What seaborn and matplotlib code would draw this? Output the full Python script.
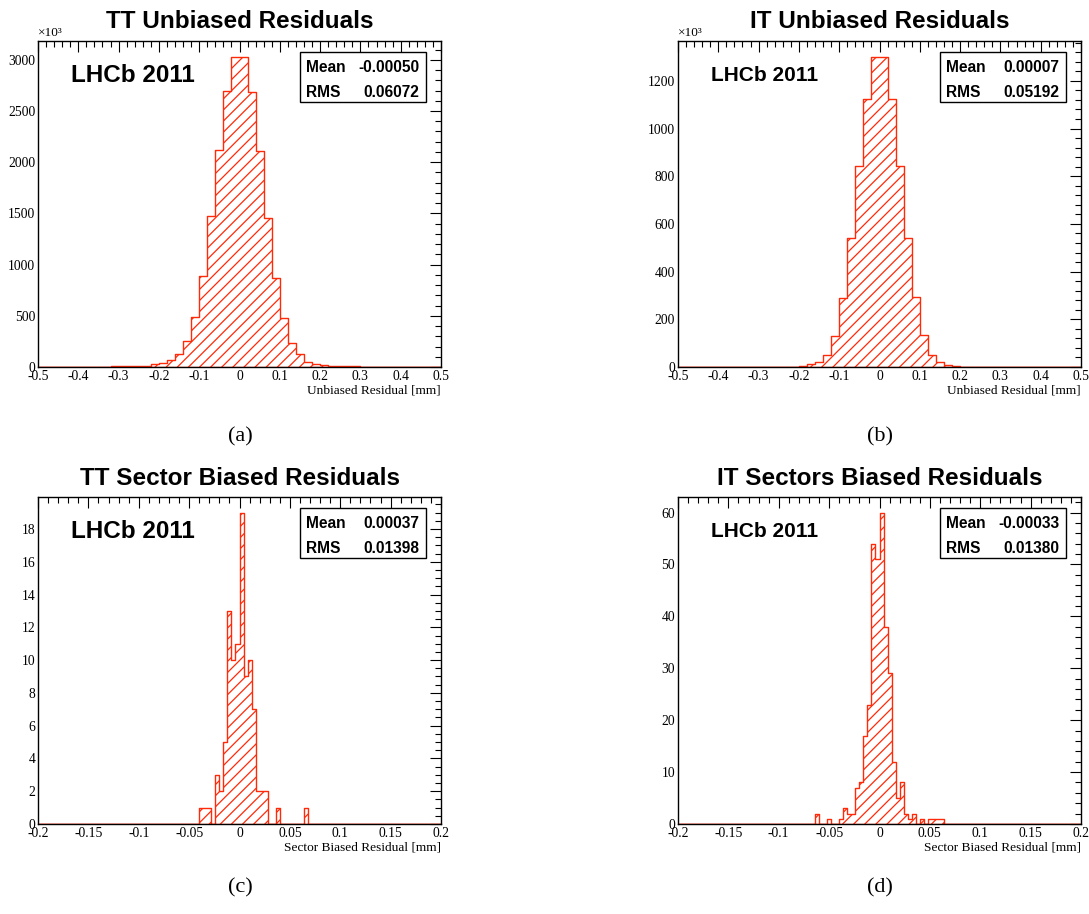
"""
plot.py - LHCb 2011 TT / IT residual histograms (2x2 panel figure).
"""

import numpy as np
import matplotlib
matplotlib.use("Agg")
import matplotlib.pyplot as plt
from matplotlib.patches import Rectangle
from matplotlib.ticker import MultipleLocator, FuncFormatter
import seaborn as sns

RED = "#ff2a0a"

# unbiased residuals: 50 bins of 0.02 mm from -0.5 to 0.5 (counts as shown on the axis)
tt_unbiased_counts = [
    1, 1, 1, 2, 2, 2, 3, 3, 4, 5,
    6, 8, 10, 14, 26, 42, 68, 130, 250, 487,
    890, 1471, 2123, 2692, 3032, 3030, 2682, 2114, 1455, 870,
    474, 234, 123, 52, 32, 19, 13, 9, 7, 5,
    4, 3, 3, 2, 2, 2, 1, 1, 1, 1,
]
it_unbiased_counts = [
    0, 0, 0, 0, 0, 0, 0, 0, 0, 0,
    0, 0, 0, 1, 2, 5, 12, 22, 49, 132,
    290, 541, 842, 1123, 1302, 1300, 1123, 845, 542, 293,
    135, 50, 22, 10, 5, 2, 1, 1, 0, 0,
    0, 0, 0, 0, 0, 0, 0, 0, 0, 0,
]

# sector biased residuals: 0.004 mm bins from -0.2 to 0.2, only filled bins
# (bin index k counted from zero, bin k covers [k*0.004, (k+1)*0.004))
tt_sector_bins = [-10, -9, -8, -6, -5, -4, -3, -2, -1, 0, 1, 2, 3, 4, 5, 6, 9, 16]
tt_sector_counts = [1, 1, 1, 3, 2, 5, 13, 10, 11, 19, 9, 10, 7, 2, 2, 2, 1, 1]
it_sector_bins = [-16, -13, -10, -9, -8, -7, -6, -5, -4, -3, -2, -1, 0,
                  1, 2, 3, 4, 5, 6, 7, 8, 10, 12, 13, 14, 15]
it_sector_counts = [2, 1, 1, 3, 2, 2, 7, 8, 17, 23, 54, 51, 60,
                    38, 29, 12, 5, 8, 2, 1, 2, 1, 1, 1, 1, 1]

titles = ["TT Unbiased Residuals", "IT Unbiased Residuals",
          "TT Sector Biased Residuals", "IT Sectors Biased Residuals"]
xlabels = ["Unbiased Residual [mm]", "Unbiased Residual [mm]",
           "Sector Biased Residual [mm]", "Sector Biased Residual [mm]"]
means = ["-0.00050", "0.00007", "0.00037", "-0.00033"]
rmss = ["0.06072", "0.05192", "0.01398", "0.01380"]
panel_tags = ["(a)", "(b)", "(c)", "(d)"]

sns.set_style("white")
plt.rcParams["axes.unicode_minus"] = False
plt.rcParams["hatch.color"] = RED
plt.rcParams["hatch.linewidth"] = 0.9
for key in ["text.color", "axes.labelcolor", "xtick.color", "ytick.color",
            "axes.edgecolor"]:
    plt.rcParams[key] = "black"

SANS = ["Liberation Sans", "DejaVu Sans"]
SERIF = ["Liberation Serif", "DejaVu Serif"]


def draw_panel(ax, centers, counts, edges, xstep, ystep, yminor, title, xlabel,
               mean, rms, tag_size, exponent):
    sns.histplot(x=list(centers), weights=list(counts), bins=list(edges),
                 element="step", fill=True, color=RED, facecolor="none",
                 edgecolor=RED, hatch="///", linewidth=1.0, ax=ax)
    ax.set_xlim(edges[0], edges[-1])
    ax.set_ylim(0, max(counts) * 1.05)
    ax.set_ylabel("")
    ax.set_xlabel(xlabel, fontsize=9.6, family=SERIF, loc="right", color="black")
    ax.xaxis.set_label_coords(1.0, -0.055)

    ax.xaxis.set_major_locator(MultipleLocator(xstep))
    ax.xaxis.set_minor_locator(MultipleLocator(xstep / 5))
    ax.yaxis.set_major_locator(MultipleLocator(ystep))
    ax.yaxis.set_minor_locator(MultipleLocator(yminor))
    fmt = FuncFormatter(lambda v, p: "%g" % round(v, 6))
    ax.xaxis.set_major_formatter(fmt)
    ax.yaxis.set_major_formatter(fmt)
    ax.tick_params(which="both", direction="in", top=True, right=True,
                   width=0.8, colors="black", labelsize=9.8, pad=2)
    ax.tick_params(which="major", length=8)
    ax.tick_params(which="minor", length=4)
    for lab in ax.get_xticklabels() + ax.get_yticklabels():
        lab.set_family(SERIF)
    for sp in ax.spines.values():
        sp.set_color("black")
        sp.set_linewidth(1.0)

    ax.set_title(title, fontsize=17.5, fontweight="bold", family=SANS, pad=9,
                 color="black")
    ax.text(0.081, 0.895, "LHCb 2011", transform=ax.transAxes, fontsize=tag_size,
            fontweight="bold", family=SANS, ha="left", va="center", color="black")

    # stats box
    ax.add_patch(Rectangle((0.65, 0.812), 0.313, 0.155, transform=ax.transAxes,
                           facecolor="white", edgecolor="black", linewidth=1.0,
                           zorder=5))
    box_kw = dict(transform=ax.transAxes, fontsize=11.2, fontweight="bold",
                  family=SANS, va="center", color="black", zorder=6)
    ax.text(0.666, 0.918, "Mean", **box_kw)
    ax.text(0.946, 0.918, mean, ha="right", **box_kw)
    ax.text(0.666, 0.842, "RMS", **box_kw)
    ax.text(0.946, 0.842, rms, ha="right", **box_kw)
    if exponent:
        ax.text(0.0, 1.006, "×10³", transform=ax.transAxes, fontsize=9.5,
                family=SERIF, ha="left", va="bottom", color="black")


fig = plt.figure(figsize=(10.89, 9.14), dpi=100)
W, H = 1089.0, 914.0
pos = [
    (38 / W, 1 - 367 / H, 403 / W, 326 / H),
    (678 / W, 1 - 367 / H, 403 / W, 326 / H),
    (38 / W, 1 - 824 / H, 403 / W, 327 / H),
    (678 / W, 1 - 824 / H, 403 / W, 327 / H),
]
axes = [fig.add_axes(p) for p in pos]

unb_edges = np.linspace(-0.5, 0.5, 51)
unb_centers = 0.5 * (unb_edges[:-1] + unb_edges[1:])
sec_edges = np.linspace(-0.2, 0.2, 101)

draw_panel(axes[0], unb_centers, tt_unbiased_counts, unb_edges, 0.1, 500, 100,
           titles[0], xlabels[0], means[0], rmss[0], 17.5, True)
draw_panel(axes[1], unb_centers, it_unbiased_counts, unb_edges, 0.1, 200, 40,
           titles[1], xlabels[1], means[1], rmss[1], 15, True)
draw_panel(axes[2], (np.array(tt_sector_bins) + 0.5) * 0.004, tt_sector_counts,
           sec_edges, 0.05, 2, 0.5, titles[2], xlabels[2], means[2], rmss[2],
           17.5, False)
draw_panel(axes[3], (np.array(it_sector_bins) + 0.5) * 0.004, it_sector_counts,
           sec_edges, 0.05, 10, 2, titles[3], xlabels[3], means[3], rmss[3],
           15, False)

tag_xy = [(240, 437), (880, 437), (240, 888), (880, 888)]
for tag, (x, y) in zip(panel_tags, tag_xy):
    fig.text(x / W, 1 - y / H, tag, fontsize=16, family=SERIF,
             ha="center", va="center", color="black")

fig.savefig("out.png", dpi=100)
